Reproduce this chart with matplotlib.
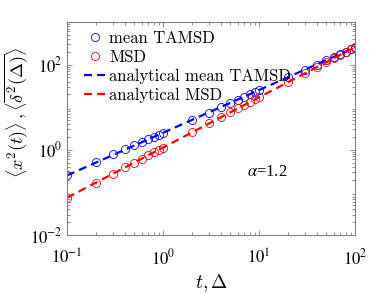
import matplotlib
matplotlib.use("Agg")
import matplotlib.pyplot as plt
from matplotlib.ticker import LogLocator, NullFormatter

plt.rcParams['font.family'] = ['Liberation Serif', 'DejaVu Serif']
plt.rcParams['mathtext.fontset'] = 'stix'

# data
t = [0.1, 0.2, 0.3, 0.4, 0.5, 0.6, 0.7, 0.8, 0.9,
     1, 2, 3, 4, 5, 6, 7, 8, 9,
     10, 20, 30, 40, 50, 60, 70, 80, 90, 100]
tamsd = [0.25, 0.51, 0.78, 1.02, 1.27, 1.52, 1.78, 2.02, 2.27,
         2.55, 5.05, 7.4, 10.1, 12.5, 15.1, 17.6, 20.2, 22.6,
         25.5, 50, 76, 100, 126, 151, 176, 200, 227, 252]
msd = [0.0755, 0.168, 0.275, 0.39, 0.50, 0.625, 0.75, 0.87, 1.0,
       1.13, 2.58, 4.2, 5.85, 7.6, 9.5, 11.4, 13.3, 15.2,
       17.3, 39, 63, 89, 115, 143, 172, 200, 230, 258]

line_t = [0.1, 100]
line_tamsd = [0.25, 255]
line_msd = [0.075, 258]

fig = plt.figure(figsize=(3.92, 2.94), dpi=100)
ax = fig.add_axes([0.171, 0.2007, 0.735, 0.7243])

ax.plot(t, tamsd, 'o', mfc='none', mec='blue', mew=0.6, ms=5.8, label='mean TAMSD')
ax.plot(t, msd, 'o', mfc='none', mec='red', mew=0.6, ms=5.8, label='MSD')
ax.plot(line_t, line_tamsd, '--', color='blue', lw=1.6, dashes=(3.6, 2.3), label='analytical mean TAMSD')
ax.plot(line_t, line_msd, '--', color='red', lw=1.6, dashes=(3.6, 2.3), label='analytical MSD')

ax.set_xscale('log')
ax.set_yscale('log')
ax.set_xlim(0.1, 100)
ax.set_ylim(1e-2, 1e3)
ax.set_xticks([0.1, 1, 10, 100])
ax.set_yticks([1e-2, 1, 1e2])
ax.set_xticklabels(['$10^{-1}$', '$10^{0}$', '$10^{1}$', '$10^{2}$'])
ax.set_yticklabels(['$10^{-2}$', '$10^{0}$', '$10^{2}$'])
ax.yaxis.set_minor_locator(LogLocator(base=10, subs=range(2, 10), numticks=20))
ax.xaxis.set_minor_locator(LogLocator(base=10, subs=range(2, 10), numticks=20))
ax.yaxis.set_minor_formatter(NullFormatter())
ax.xaxis.set_minor_formatter(NullFormatter())

for s in ax.spines.values():
    s.set_color('#808080')
    s.set_linewidth(0.8)
ax.tick_params(which='both', direction='in', top=True, right=True, colors='#808080',
               labelcolor='black', labelsize=12, width=0.6)
ax.tick_params(which='major', length=3.5)
ax.tick_params(which='minor', length=2)
ax.tick_params(axis='x', pad=10)

ax.set_xlabel(r'$t,\Delta$', fontsize=14, labelpad=2, math_fontfamily='cm')
ax.set_ylabel(r'$\langle x^2(t)\rangle\,,\langle\overline{\delta^2(\Delta)}\rangle$',
              fontsize=13, math_fontfamily='cm')
ax.yaxis.set_label_coords(-0.125, 0.577)

ax.text(0.625, 0.296, r'$\alpha$=1.2', transform=ax.transAxes, fontsize=12, va='center', ha='left')

leg = ax.legend(loc='upper left', frameon=False, prop={'family': 'cmr10', 'size': 12},
                handlelength=1.35, handletextpad=0.15, labelspacing=0.22,
                borderpad=0, borderaxespad=0, bbox_to_anchor=(0.059, 0.96))

fig.savefig('out.png', dpi=100)
